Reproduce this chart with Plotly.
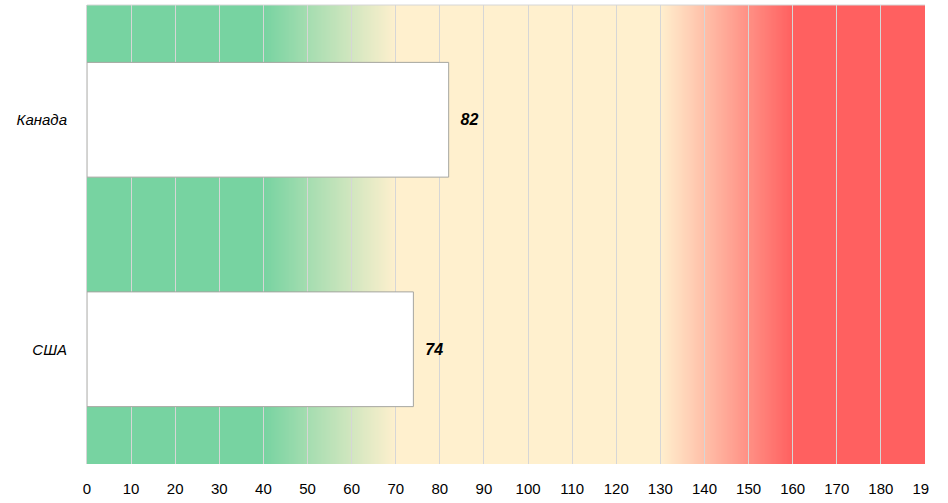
import base64
import struct
import zlib

import plotly.graph_objects as go

countries = ["Канада", "США"]
values = [82, 74]
tick_vals = list(range(0, 200, 10))
tick_text = [str(v) for v in tick_vals[:-1]] + ["19\u2007"]

FONT = "Liberation Sans Narrow, Arial Narrow, Liberation Sans, Arial"

# background zones: green -> cream -> red
GREEN = (119, 211, 161)
CREAM = (255, 240, 206)
RED = (255, 96, 96)
zone_stops = [(0, GREEN), (40, GREEN), (70, CREAM), (130, CREAM), (160, RED), (190, RED)]


def _color_at(v):
    for (a, ca), (b, cb) in zip(zone_stops[:-1], zone_stops[1:]):
        if a <= v <= b:
            t = (v - a) / (b - a)
            return tuple(round(ca[i] + (cb[i] - ca[i]) * t) for i in range(3))
    return zone_stops[-1][1]


def _gradient_png(width=760, height=2):
    row = b"\x00" + b"".join(bytes(_color_at((i + 0.5) * 190 / width)) for i in range(width))
    raw = row * height

    def chunk(tag, data):
        c = struct.pack(">I", len(data)) + tag + data
        return c + struct.pack(">I", zlib.crc32(tag + data) & 0xFFFFFFFF)

    png = b"\x89PNG\r\n\x1a\n"
    png += chunk(b"IHDR", struct.pack(">IIBBBBB", width, height, 8, 2, 0, 0, 0))
    png += chunk(b"IDAT", zlib.compress(raw, 9))
    png += chunk(b"IEND", b"")
    return "data:image/png;base64," + base64.b64encode(png).decode()


fig = go.Figure()
fig.add_trace(go.Bar(
    y=countries, x=values, orientation="h",
    marker=dict(color="white", line=dict(color="#A6A6A0", width=1)),
    text=values, texttemplate="\u00a0\u00a0%{x}", textposition="outside",
    textfont=dict(family=FONT, size=16, color="black", weight="bold", style="italic"),
    cliponaxis=False, width=0.5, hoverinfo="skip",
))

fig.update_layout(
    width=948, height=503,
    margin=dict(l=87, r=23, t=5, b=39),
    paper_bgcolor="white", plot_bgcolor="white",
    showlegend=False,
    images=[dict(
        source=_gradient_png(), xref="x", yref="paper",
        x=0, y=1, sizex=190, sizey=1,
        xanchor="left", yanchor="top", sizing="stretch", layer="below",
    )],
    shapes=[dict(type="line", xref="paper", yref="paper", x0=0, x1=1, y0=1, y1=1,
                 line=dict(color="#D6D6D6", width=1))],
    xaxis=dict(
        range=[0, 190], tickvals=tick_vals, ticktext=tick_text,
        showgrid=True, gridcolor="#D6D6D6", gridwidth=1, zeroline=False,
        tickfont=dict(family=FONT, size=15, color="black"),
        ticklabelstandoff=14, automargin=False,
    ),
    yaxis=dict(
        categoryorder="array", categoryarray=countries, autorange="reversed",
        showline=True, linecolor="#D6D6D6", linewidth=1,
        tickfont=dict(family=FONT, size=15, color="black", style="italic"),
        ticklabelstandoff=16, automargin=False,
    ),
)

fig.write_html("out.html", config={"displayModeBar": False},
               post_script="document.body.style.margin='0';")
